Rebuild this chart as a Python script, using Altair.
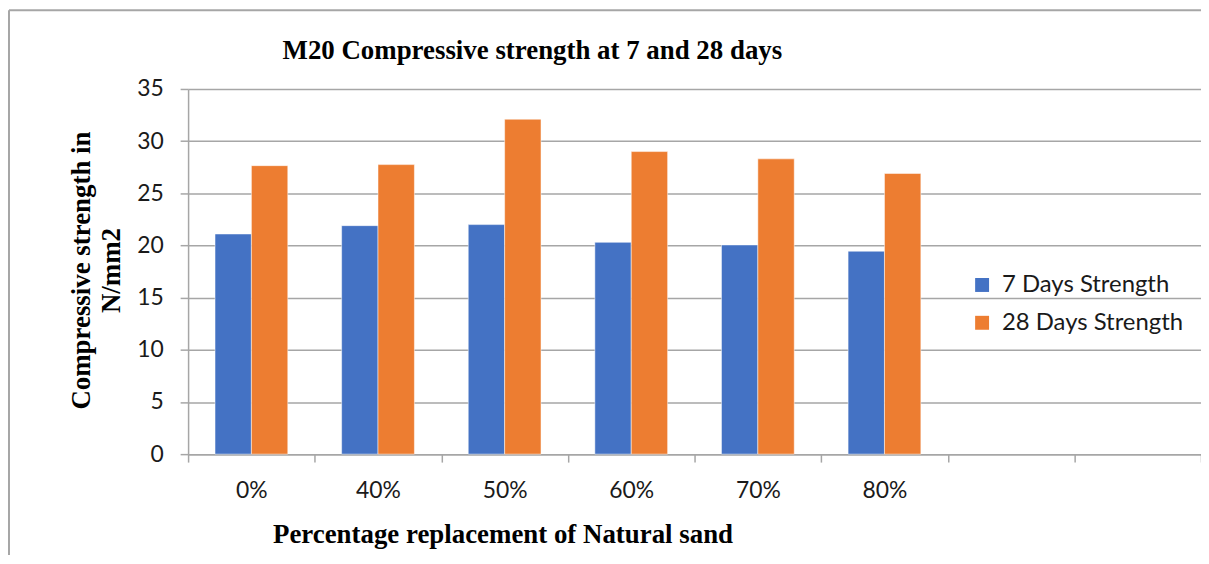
import altair as alt
import pandas as pd

categories = ["0%", "40%", "50%", "60%", "70%", "80%", " ", "  "]
shown = ["0%", "40%", "50%", "60%", "70%", "80%"]
days7 = [21.1, 21.9, 22.0, 20.3, 20.05, 19.45]
days28 = [27.65, 27.75, 32.1, 29.0, 28.3, 26.9]
series = ["7 Days Strength", "28 Days Strength"]
colors = ["#4472C4", "#ED7D31"]
title_text = ["M20 Compressive strength at 7 and 28 days"]

rows = []
for c, a, b in zip(shown, days7, days28):
    rows.append({"cat": c, "series": series[0], "value": a})
    rows.append({"cat": c, "series": series[1], "value": b})
df = pd.DataFrame(rows)

LABEL_FONT = "Lato"
SERIF = "Liberation Serif"
GREY = "#A6A6A6"
PAD_L = 181
PAD_T = 80

bars = alt.Chart(df).mark_bar(stroke="white", strokeWidth=0.5).encode(
    x=alt.X("cat:N", sort=categories,
            scale=alt.Scale(domain=categories, paddingInner=0, paddingOuter=0),
            axis=alt.Axis(title="Percentage replacement of Natural sand", labelAngle=0,
                          tickBand="extent", tickSize=8, tickColor=GREY, tickWidth=1.5,
                          domainColor=GREY, domainWidth=1.5,
                          labelFont=LABEL_FONT, labelFontSize=23, labelColor="#1a1a1a",
                          labelPadding=18,
                          titleFont=SERIF, titleFontSize=27, titleFontWeight="bold",
                          titleColor="#000000", titleX=316, titleY=89,
                          titleAlign="center", titleBaseline="alphabetic")),
    xOffset=alt.XOffset("series:N", sort=series,
                        scale=alt.Scale(domain=series, paddingInner=0, paddingOuter=0.74)),
    y=alt.Y("value:Q", scale=alt.Scale(domain=[0, 35], nice=False),
            axis=alt.Axis(title=["Compressive strength in", "N/mm2"], values=[0, 5, 10, 15, 20, 25, 30, 35],
                          tickSize=8, tickColor=GREY, tickWidth=1.5,
                          domainColor=GREY, domainWidth=1.5,
                          gridColor=GREY, gridWidth=1.5,
                          labelFont=LABEL_FONT, labelFontSize=23, labelColor="#1a1a1a",
                          labelPadding=17,
                          titleFont=SERIF, titleFontSize=27, titleFontWeight="bold",
                          titleColor="#000000", titleAngle=-90, titleX=-120, titleY=182,
                          titleAlign="center", titleBaseline="top", titleLineHeight=30)),
    color=alt.Color("series:N", sort=series,
                    scale=alt.Scale(domain=series, range=colors),
                    legend=alt.Legend(title=None, orient="none", legendX=786, legendY=185,
                                      symbolType="square", symbolSize=196, symbolStrokeWidth=0,
                                      labelFont=LABEL_FONT, labelFontSize=24, labelColor="#1a1a1a",
                                      labelLimit=400, rowPadding=14, labelOffset=8)),
)

title = alt.Chart(pd.DataFrame({"t": title_text})).mark_text(
    font=SERIF, fontSize=27, fontWeight="bold", color="#000000",
    align="center", baseline="alphabetic"
).encode(text="t:N", x=alt.value(346), y=alt.value(-30))

frame_df = pd.DataFrame({"k": [0]})
top_line = alt.Chart(frame_df).mark_rule(stroke=GREY, strokeWidth=2).encode(
    x=alt.value(-PAD_L + 1), x2=alt.value(1030), y=alt.value(-PAD_T + 1)
)
left_line = alt.Chart(frame_df).mark_rule(stroke=GREY, strokeWidth=2).encode(
    x=alt.value(-PAD_L + 1), y=alt.value(-PAD_T + 1), y2=alt.value(600)
)

chart = alt.layer(bars, title, top_line, left_line).properties(
    width=1018, height=367,
    autosize=alt.AutoSizeParams(type="none"),
    padding={"left": PAD_L, "top": PAD_T, "right": 0, "bottom": 100},
).configure_view(stroke=None)

chart.save("out.html", embed_options={"renderer": "svg", "actions": False})
